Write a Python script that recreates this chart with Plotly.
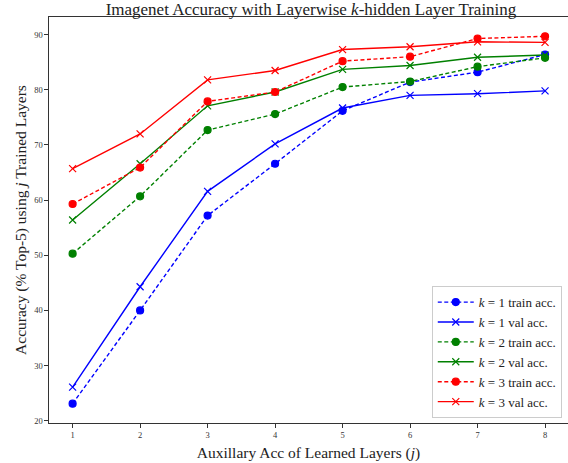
import plotly.graph_objects as go

layers = [1, 2, 3, 4, 5, 6, 7, 8]
k1_train = [23.1, 40.0, 57.2, 66.6, 76.2, 81.4, 83.2, 86.4]
k1_val = [26.1, 44.3, 61.6, 70.2, 76.7, 79.0, 79.3, 79.8]
k2_train = [50.3, 60.7, 72.7, 75.6, 80.5, 81.5, 84.2, 85.8]
k2_val = [56.4, 66.6, 77.1, 79.6, 83.7, 84.4, 85.9, 86.3]
k3_train = [59.3, 65.9, 77.9, 79.6, 85.2, 86.0, 89.3, 89.7]
k3_val = [65.7, 72.0, 81.8, 83.5, 87.3, 87.8, 88.7, 88.6]
y_ticks = [20, 30, 40, 50, 60, 70, 80, 90]

FONT = "Liberation Serif"
EQ = "&#160;=&#160;"

series = [
    ("<i>k</i>" + EQ + "1 train acc.", k1_train, "#0000ff", "dash", "circle"),
    ("<i>k</i>" + EQ + "1 val acc.", k1_val, "#0000ff", "solid", "x-thin"),
    ("<i>k</i>" + EQ + "2 train acc.", k2_train, "#008000", "dash", "circle"),
    ("<i>k</i>" + EQ + "2 val acc.", k2_val, "#008000", "solid", "x-thin"),
    ("<i>k</i>" + EQ + "3 train acc.", k3_train, "#ff0000", "dash", "circle"),
    ("<i>k</i>" + EQ + "3 val acc.", k3_val, "#ff0000", "solid", "x-thin"),
]

fig = go.Figure()
for name, vals, color, dash, sym in series:
    marker = dict(symbol=sym, color=color, size=7,
                  line=dict(color=color, width=1.2))
    fig.add_trace(go.Scatter(
        x=layers, y=vals, name=name, mode="lines+markers",
        line=dict(color=color, width=1.4, dash=dash if dash == "solid" else "4px,2.5px"),
        marker=marker,
    ))

fig.update_layout(
    width=568, height=463,
    margin=dict(l=49, r=0, t=17, b=40),
    paper_bgcolor="white", plot_bgcolor="white",
    font=dict(family=FONT, color="#222"),
    showlegend=True,
    title=dict(
        text="Imagenet Accuracy with Layerwise <i>k</i>-hidden Layer Training",
        x=311 / 568, xref="container", xanchor="center",
        y=1 - 9 / 463, yref="container", yanchor="middle",
        font=dict(family=FONT, size=17, color="#222"),
    ),
    legend=dict(
        x=0.988, y=0.012, xanchor="right", yanchor="bottom",
        bgcolor="white", bordercolor="#cccccc", borderwidth=1,
        font=dict(family=FONT, size=13, color="#222"),
        tracegroupgap=0, itemwidth=36,
    ),
)

fig.update_xaxes(
    range=[0.65, 8.34], tickvals=layers, ticktext=[str(v) for v in layers],
    showgrid=False, zeroline=False,
    showline=True, linecolor="#333", linewidth=1.3, mirror=True,
    ticks="outside", ticklen=3.5, tickwidth=1, tickcolor="#333",
    tickfont=dict(family=FONT, size=8.5, color="#333"),
    title=dict(text="Auxillary Acc of Learned Layers (<i>j</i>)",
               font=dict(family=FONT, size=15.5, color="#222"), standoff=8),
)
fig.update_yaxes(
    range=[19.6, 93.2], tickvals=y_ticks, ticktext=[str(v) for v in y_ticks],
    showgrid=False, zeroline=False,
    showline=True, linecolor="#333", linewidth=1.3, mirror=False,
    ticks="outside", ticklen=3.5, tickwidth=1, tickcolor="#333",
    tickfont=dict(family=FONT, size=8.5, color="#333"),
    title=dict(text="Accuracy (% Top-5) using <i>j</i> Trained Layers",
               font=dict(family=FONT, size=15.5, color="#222"), standoff=3),
)

fig.write_html(
    "out.html",
    config={"displayModeBar": False},
    post_script="document.body.style.margin='0';document.body.style.overflow='hidden';",
)
